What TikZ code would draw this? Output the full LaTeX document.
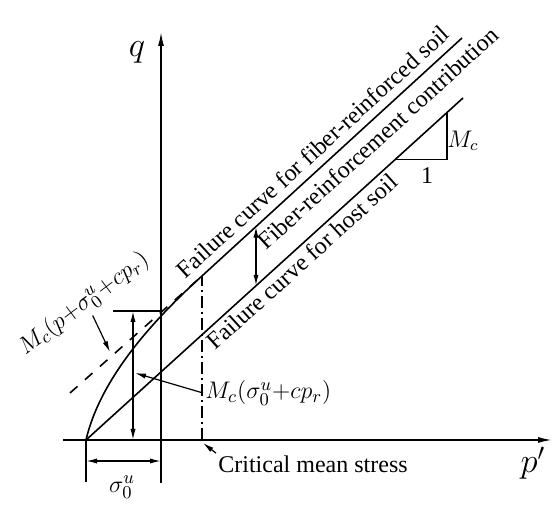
\documentclass[tikz,border=0pt]{standalone}
\usepackage{fontspec}
\setmainfont{Liberation Serif}
\usetikzlibrary{arrows.meta,positioning}
\tikzset{
  axis/.style={-{Latex[length=7pt,width=3pt]},line width=0.8pt},
  curve/.style={line width=0.8pt},
  dim/.style={{Latex[length=5.5pt,width=2.6pt]}-{Latex[length=5.5pt,width=2.6pt]},line width=0.7pt},
  lead/.style={-{Latex[length=5.5pt,width=2.6pt]},line width=0.6pt},
  lbl/.style={inner sep=1pt,font=\fontsize{12}{14}\selectfont},
  mlbl/.style={inner sep=1pt,font=\fontsize{13}{15}\selectfont},
  big/.style={inner sep=1pt,font=\fontsize{18}{20}\selectfont}
}

\begin{document}
\begin{tikzpicture}[x=0.5pt,y=-0.5pt]
  \useasboundingbox (0,0) rectangle (553,506);
  % key points
  \coordinate (O) at (86,440);
  \coordinate (T) at (202,276);
  \coordinate (fTop) at (462,38);
  \coordinate (hTop) at (463,98);
  % axes
  \draw[axis] (161,483) -- (161,32);
  \draw[axis] (63,440) -- (552,440);
  \node[big] (q) at (137,52) {$q$};
  \node[big] (p) at (533,463) {$p'$};
  % failure lines
  \draw[curve] (O) -- (hTop);
  \draw[curve] (O) .. controls (100,380) and (150,323) .. (T) -- (fTop);
  \draw[curve,dash pattern=on 5pt off 5pt] (70,393) -- (T);
  \draw[line width=0.6pt,dash pattern=on 6pt off 2pt on 1pt off 2pt] (202,440) -- (T);
  % dimensions
  \draw[line width=0.7pt] (113,311) -- (161,311);
  \draw[dim] (133,311) -- (133,440);
  \draw[line width=0.7pt] (O) -- (86,482);
  \draw[dim] (86,461) -- (161,461);
  \draw[dim] (256,226.6) -- (256,285.8);
  \draw[line width=0.7pt] (395,159.7) -- (447,159.7) -- (447,112.5);
  % labels
  \path (T) -- (fTop) node[lbl,sloped,above=3pt,pos=0.47] (fib) {Failure curve for fiber-reinforced soil};
  \path (O) -- (hTop) node[lbl,sloped,below=1pt,pos=0.55] (host) {Failure curve for host soil};
  \node[lbl,rotate=42.4] (contrib) at (378,138) {Fiber-reinforcement contribution};
  \node[mlbl,rotate=37] (mfib) at (84,304) {$M_{c}(p{+}\sigma_0^{u}{+}cp_{r})$};
  \node[mlbl,anchor=west] (mhost) at (203,393) {$M_{c}(\sigma_0^{u}{+}cp_{r})$};
  \node[lbl,anchor=west] (crit) at (216,464) {Critical mean stress};
  \node[mlbl] (sig) at (122,487) {$\sigma_0^{u}$};
  \node[lbl] (one) at (427,176) {1};
  \node[lbl] (mc) at (463,141) {$M_{c}$};
  % leaders
  \coordinate (dashPt) at (110,352);
  \coordinate (vArr) at (135,373);
  \coordinate (critPt) at (203,443);
  \draw[lead] (mfib.south) -- (dashPt);
  \draw[lead] (mhost.west) -- (vArr);
  \draw[lead] (crit.north west) -- (critPt);
\end{tikzpicture}
\end{document}
